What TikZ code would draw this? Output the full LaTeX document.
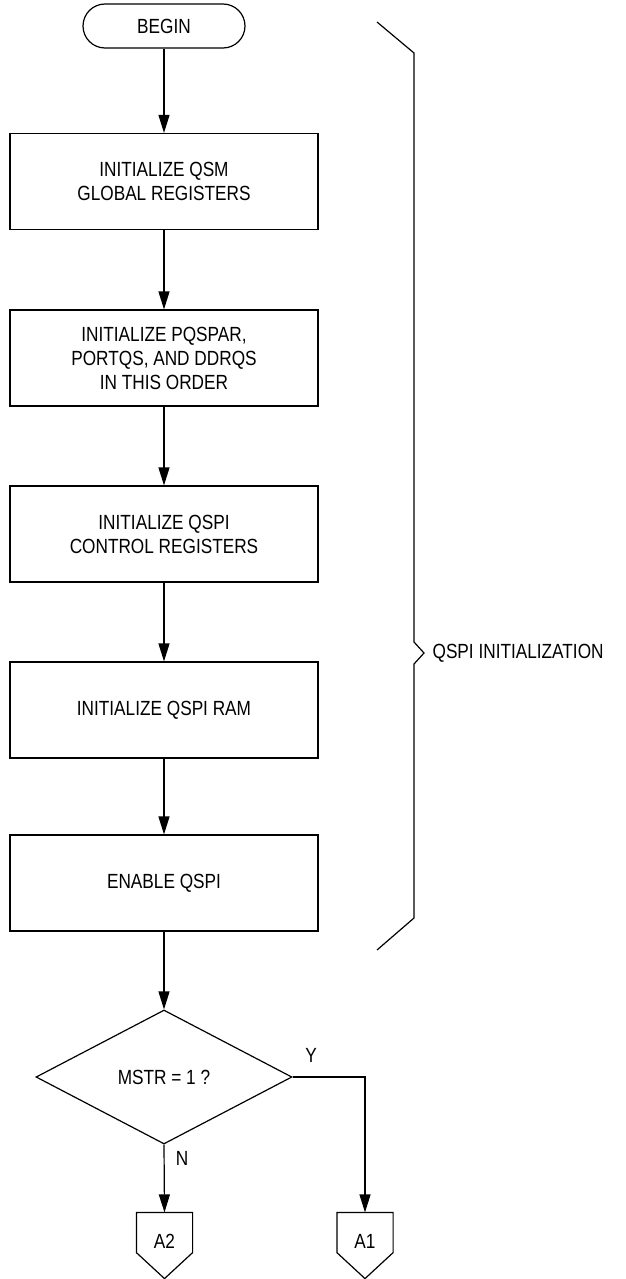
\documentclass[tikz,border=0pt]{standalone}
\usepackage{fontspec}
\setmainfont{Liberation Sans}[FakeStretch=0.84]
\usetikzlibrary{arrows.meta,shapes.geometric,calc}
\begin{document}
\begin{tikzpicture}[x=1pt,y=-1pt,line width=1.2pt,
  font=\fontsize{20.5}{24}\selectfont,
  procbox/.style={draw,minimum width=308pt,minimum height=96pt,align=center,inner sep=0pt},
  termbox/.style={draw,rounded corners=22pt,minimum width=162pt,minimum height=44pt,inner sep=0pt},
  decbox/.style={draw,diamond,minimum width=256pt,minimum height=134pt,inner sep=0pt},
  connbox/.style={minimum width=55pt,minimum height=39pt,inner sep=0pt},
  arr/.style={-{Triangle[length=18pt,width=11pt]}}]
\useasboundingbox (0,0) rectangle (625,1279);
\node[termbox] (begin) at (164,26) {BEGIN};
\node[procbox] (b1) at (164,181.5) {INITIALIZE QSM\\GLOBAL REGISTERS};
\node[procbox] (b2) at (164,358) {INITIALIZE PQSPAR,\\PORTQS, AND DDRQS\\IN THIS ORDER};
\node[procbox] (b3) at (164,534) {INITIALIZE QSPI\\CONTROL REGISTERS};
\node[procbox] (b4) at (164,710) {INITIALIZE QSPI RAM};
\node[procbox] (b5) at (164,883) {ENABLE QSPI};
\node[decbox] (dec) at (164,1077) {MSTR = 1 ?};
\node[connbox] (a2) at (164.5,1232.5) {};
\node[connbox] (a1) at (365,1232.5) {};
\node (a2t) at ($(a2)+(0,9)$) {A2};
\node (a1t) at ($(a1)+(0,9)$) {A1};
\draw (a2.north west) -- (a2.north east) -- (a2.south east) -- ($(a2.south)+(0,26)$) -- (a2.south west) -- cycle;
\draw (a1.north west) -- (a1.north east) -- (a1.south east) -- ($(a1.south)+(0,26)$) -- (a1.south west) -- cycle;
\draw[arr] (begin.south) -- (b1.north);
\draw[arr] (b1.south) -- (b2.north);
\draw[arr] (b2.south) -- (b3.north);
\draw[arr] (b3.south) -- (b4.north);
\draw[arr] (b4.south) -- (b5.north);
\draw[arr] (b5.south) -- (dec.north);
\draw[arr] (dec.south) -- (a2.north);
\draw[arr] (dec.east) -| (a1.north);
\node (ylab) at (311,1055) {Y};
\node (nlab) at (182,1158) {N};
\draw (377,22) -- (414,53) -- (414,642) -- (424,653) -- (414,664) -- (414,918) -- (377,950);
\node[anchor=west,inner sep=0pt] (brlab) at (432,653) {QSPI INITIALIZATION};
\end{tikzpicture}
\end{document}
